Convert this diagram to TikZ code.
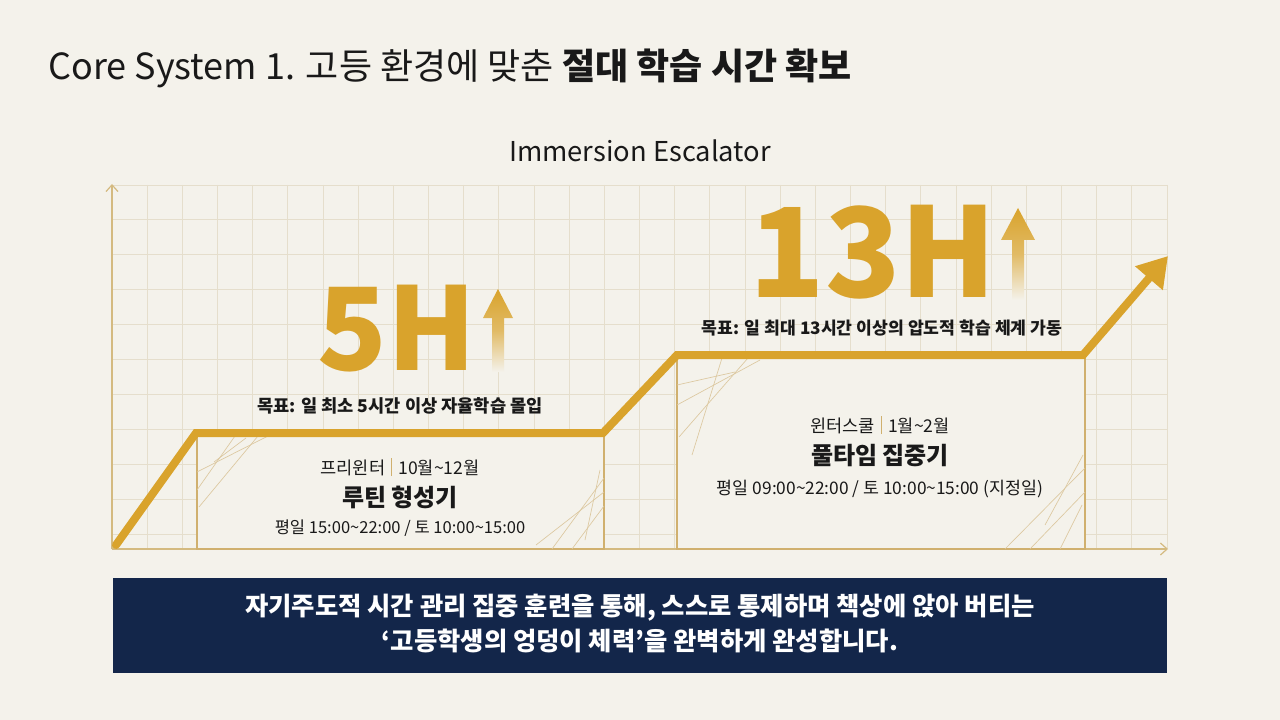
\documentclass[tikz,border=0pt]{standalone}
\usepackage{fontspec}
\setmainfont{Noto Sans CJK KR}
\usetikzlibrary{arrows.meta}

\definecolor{bgcream}{RGB}{244,242,235}
\definecolor{gridline}{RGB}{229,222,204}
\definecolor{axisgold}{RGB}{212,186,128}
\definecolor{gold}{RGB}{217,163,44}
\definecolor{boxgold}{RGB}{208,176,110}
\definecolor{sketch}{RGB}{220,200,160}
\definecolor{navy}{RGB}{19,38,74}
\definecolor{inkdark}{RGB}{25,25,25}

\tikzset{
  axis line/.style={color=axisgold, line width=0.9},
  stage box/.style={draw=boxgold, line width=1.1, fill=bgcream},
  sketch line/.style={color=sketch, line width=0.5},
  big hours/.style={anchor=base, inner sep=0pt, color=gold, font=\bfseries\fontsize{86}{90}\selectfont},
  goal text/.style={anchor=base, inner sep=0pt, color=inkdark, font=\bfseries\fontsize{13.2}{15}\selectfont},
  period text/.style={anchor=base, inner sep=0pt, color=inkdark, font=\fontsize{13.2}{15}\selectfont},
  stage name/.style={anchor=base, inner sep=0pt, color=inkdark, font=\bfseries\fontsize{18}{21}\selectfont},
  time text/.style={anchor=base, inner sep=0pt, color=inkdark, font=\fontsize{12.4}{14}\selectfont},
  banner text/.style={anchor=base, inner sep=0pt, color=white, font=\bfseries\fontsize{19}{22}\selectfont}
}
\newcommand{\goldbar}{\hspace{0.35em}{\color{boxgold}\rule[-0.12em]{0.6pt}{1.05em}}\hspace{0.35em}}

\begin{document}
\begin{tikzpicture}[x=0.75pt,y=0.75pt,yscale=-1]

\path[use as bounding box, fill=bgcream] (0,0) rectangle (1280,720);

% grid
\foreach \i in {1,...,30} {\draw[color=gridline, line width=0.7] ({112+\i*35.17},185) -- ({112+\i*35.17},549);}
\foreach \j in {0,...,10} {\draw[color=gridline, line width=0.7] (112,{185+\j*34.9}) -- (1167,{185+\j*34.9});}

% axes
\draw[axis line, -{Straight Barb[length=5pt,width=9pt]}] (112,549) -- (112,184);
\draw[axis line, -{Straight Barb[length=5pt,width=9pt]}] (112,549) -- (1168,549);

% stage boxes
\draw[stage box] (197,433) rectangle (604,549);
\draw[stage box] (677,355) rectangle (1085,549);

% sketchy lines in the box corners
\begin{scope}
\clip (197,433) rectangle (604,549);
\draw[sketch line] (197,472) -- (268,436);
\draw[sketch line] (199,507) -- (258,436);
\draw[sketch line] (197,490) -- (235,436);
\draw[sketch line] (214,462) -- (246,438);
\draw[sketch line] (552,549) -- (604,478);
\draw[sketch line] (572,549) -- (604,506);
\draw[sketch line] (536,545) -- (604,492);
\draw[sketch line] (585,540) -- (600,470);
\end{scope}
\begin{scope}
\clip (677,355) rectangle (1085,549);
\draw[sketch line] (677,405) -- (760,360);
\draw[sketch line] (679,437) -- (748,358);
\draw[sketch line] (692,455) -- (722,358);
\draw[sketch line] (677,385) -- (735,372);
\draw[sketch line] (1005,549) -- (1085,468);
\draw[sketch line] (1030,549) -- (1085,492);
\draw[sketch line] (1045,525) -- (1083,455);
\draw[sketch line] (1060,549) -- (1082,505);
\end{scope}

% escalator line
\coordinate (start) at (116,545);
\coordinate (step1) at (196,433);
\coordinate (edge1) at (603,433);
\coordinate (step2) at (677,355);
\coordinate (edge2) at (1083,355);
\coordinate (tip) at (1168,256);
\draw[color=gold, line width=6, line cap=round, line join=miter, -{Triangle[length=22pt,width=26pt]}]
  (start) -- (step1) -- (edge1) -- (step2) -- (edge2) -- (tip);

% fading arrows beside the hours
\shade[top color=gold, bottom color=bgcream, middle color=gold!70!bgcream]
  (492,372) -- (492,318) -- (483,318) -- (498,289) -- (513,318) -- (504,318) -- (504,372) -- cycle;
\shade[top color=gold, bottom color=bgcream, middle color=gold!70!bgcream]
  (1012,300) -- (1012,240) -- (1001,240) -- (1018,208) -- (1035,240) -- (1024,240) -- (1024,300) -- cycle;

% texts
\draw (48,80) node [anchor=base west, inner sep=0pt, color=inkdark, font=\fontsize{27}{32}\selectfont] (title)
  {Core System 1. 고등 환경에 맞춘 \textbf{절대 학습 시간 확보}};
\draw (640,162) node [anchor=base, inner sep=0pt, color=inkdark, font=\fontsize{20.5}{24}\selectfont] (subtitle) {Immersion Escalator};

\draw (397,370) node [big hours] (hours5) {5H};
\draw (400,412) node [goal text] (goal5) {목표: 일 최소 5시간 이상 자율학습 몰입};
\draw (400,474) node [period text] (period1) {프리윈터\goldbar 10월\char`~12월};
\draw (400,506) node [stage name] (stage1) {루틴 형성기};
\draw (400,533) node [time text] (time1) {평일 15:00\char`~22:00 / 토 10:00\char`~15:00};

\draw (873,297) node [big hours, font=\bfseries\fontsize{93}{98}\selectfont] (hours13) {13H};
\draw (882,334) node [goal text, font=\bfseries\fontsize{12.9}{15}\selectfont] (goal13) {목표: 일 최대 13시간 이상의 압도적 학습 체계 가동};
\draw (880,432) node [period text] (period2) {윈터스쿨\goldbar 1월\char`~2월};
\draw (880,464) node [stage name] (stage2) {풀타임 집중기};
\draw (880,494) node [time text, font=\fontsize{13}{15}\selectfont] (time2) {평일 09:00\char`~22:00 / 토 10:00\char`~15:00 (지정일)};

% bottom banner
\draw[fill=navy, draw=none] (113,578) rectangle (1167,673);
\draw (640,615) node [banner text] (msg1)
  {자기주도적 시간 관리 집중 훈련을 통해, 스스로 통제하며 책상에 앉아 버티는};
\draw (640,650) node [banner text] (msg2)
  {‘고등학생의 엉덩이 체력’을 완벽하게 완성합니다.};

\end{tikzpicture}
\end{document}
